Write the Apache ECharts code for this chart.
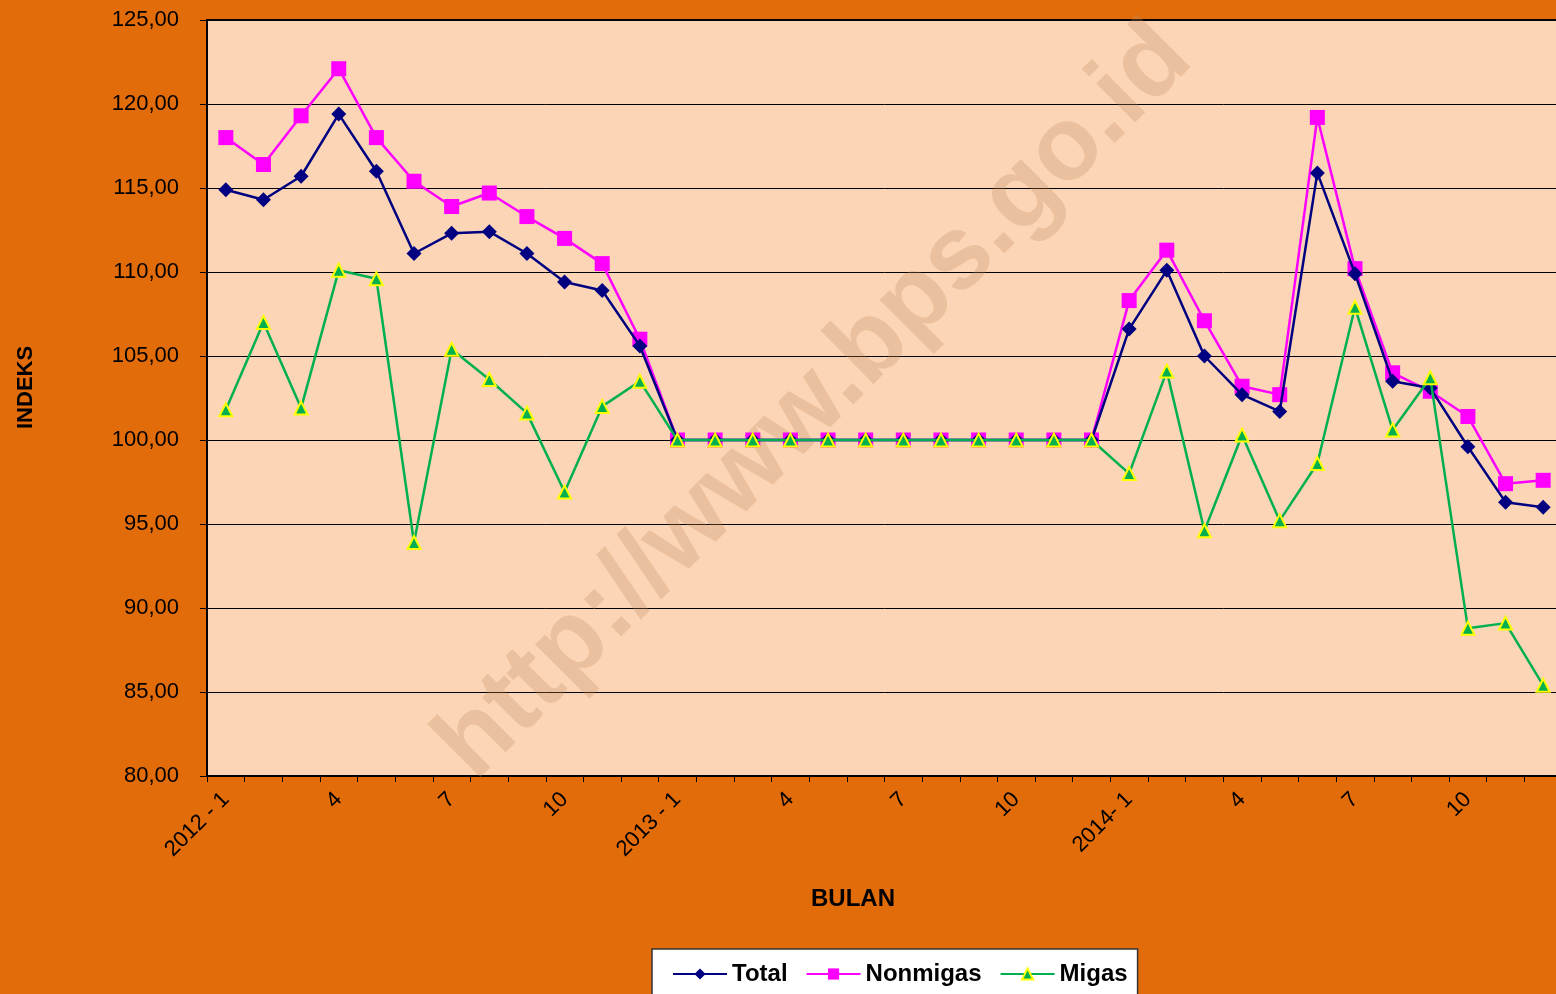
<!DOCTYPE html>
<html>
<head>
<meta charset="utf-8">
<script src="https://cdn.jsdelivr.net/npm/echarts@6/dist/echarts.min.js"></script>
<style>
html,body{margin:0;padding:0;background:#E36C0A;overflow:hidden;width:1556px;height:994px;}
#chart{width:1562px;height:994px;}
</style>
</head>
<body>
<div id="chart"></div>
<script>
var categories = [];
var years = [2012, 2013, 2014];
years.forEach(function (y) { for (var m = 1; m <= 12; m++) categories.push(y + '-' + m); });

var xTickLabels = ['2012 - 1','4','7','10','2013 - 1','4','7','10','2014- 1','4','7','10'];

var total = [114.9,114.3,115.7,119.4,116.0,111.1,112.3,112.4,111.1,109.4,108.9,105.6,
             100,100,100,100,100,100,100,100,100,100,100,100,
             106.6,110.1,105.0,102.7,101.7,115.9,109.9,103.5,103.1,99.6,96.3,96.0];
var nonmigas = [118.0,116.4,119.3,122.1,118.0,115.4,113.9,114.7,113.3,112.0,110.5,106.0,
             100,100,100,100,100,100,100,100,100,100,100,100,
             108.3,111.3,107.1,103.2,102.7,119.2,110.2,104.0,102.9,101.4,97.4,97.6];
var migas = [101.8,107.0,101.9,110.1,109.6,93.9,105.4,103.6,101.6,96.9,102.0,103.5,
             100,100,100,100,100,100,100,100,100,100,100,100,
             98.0,104.1,94.6,100.3,95.2,98.6,107.9,100.6,103.7,88.8,89.1,85.4];

var chart = echarts.init(document.getElementById('chart'), null, {renderer: 'canvas'});
var fontFam = '"Liberation Sans", Arial, sans-serif';

chart.setOption({
  backgroundColor: '#E36C0A',
  animation: false,
  grid: {
    left: 207, top: 20, width: 1355, height: 756,
    show: true, backgroundColor: '#FBD5B5', borderColor: '#000', borderWidth: 2
  },
  xAxis: {
    type: 'category',
    data: categories,
    boundaryGap: true,
    axisLine: {lineStyle: {color: '#000', width: 2}},
    axisTick: {show: true, interval: 0, length: 6, lineStyle: {color: '#000', width: 1}},
    axisLabel: {
      interval: 2, rotate: 45, margin: 20, color: '#000',
      fontFamily: fontFam, fontSize: 22,
      formatter: function (v, i) { return xTickLabels[Math.floor(i / 3)]; }
    },
    splitLine: {show: false}
  },
  yAxis: {
    type: 'value', min: 80, max: 125, interval: 5,
    axisLine: {show: true, lineStyle: {color: '#000', width: 2}},
    axisTick: {show: true, length: 7, lineStyle: {color: '#000', width: 1}},
    axisLabel: {
      color: '#000', fontFamily: fontFam, fontSize: 22, margin: 28,
      formatter: function (v) { return v.toFixed(2).replace('.', ','); }
    },
    splitLine: {show: true, lineStyle: {color: '#000', width: 1}}
  },
  legend: {
    left: 652, top: 949,
    backgroundColor: '#fff', borderColor: '#333', borderWidth: 1.5,
    padding: [13, 10, 20, 20],
    itemWidth: 54, itemHeight: 14, itemGap: 18,
    textStyle: {fontFamily: fontFam, fontSize: 24, fontWeight: 'bold', color: '#000'},
    data: ['Total', 'Nonmigas', 'Migas']
  },
  graphic: [
    {
      type: 'text', z: 1,
      x: 815, y: 402, rotation: Math.PI / 4,
      style: {
        text: 'http://www.bps.go.id', x: 0, y: 0, align: 'center', verticalAlign: 'middle',
        font: 'bold 104px "Liberation Sans", Arial, sans-serif',
        fill: 'rgba(190,140,100,0.28)'
      }
    },
    {
      type: 'text', left: 811, top: 887,
      style: {text: 'BULAN', font: 'bold 24px "Liberation Sans", Arial, sans-serif', fill: '#000'}
    },
    {
      type: 'text', x: 15, y: 429, rotation: Math.PI / 2,
      style: {text: 'INDEKS', font: 'bold 22px "Liberation Sans", Arial, sans-serif', fill: '#000'}
    }
  ],
  series: [
    {
      name: 'Total', type: 'line', data: total, z: 4,
      symbol: 'diamond', symbolSize: 15,
      lineStyle: {color: '#000080', width: 2.5},
      itemStyle: {color: '#000080'}
    },
    {
      name: 'Nonmigas', type: 'line', data: nonmigas, z: 3,
      symbol: 'rect', symbolSize: 15,
      lineStyle: {color: '#FF00FF', width: 2.5},
      itemStyle: {color: '#FF00FF'}
    },
    {
      name: 'Migas', type: 'line', data: migas, z: 5,
      symbol: 'triangle', symbolSize: 13,
      lineStyle: {color: '#00B050', width: 2.5},
      itemStyle: {color: '#00B050', borderColor: '#FFFF00', borderWidth: 2}
    }
  ]
});
</script>
</body>
</html>
